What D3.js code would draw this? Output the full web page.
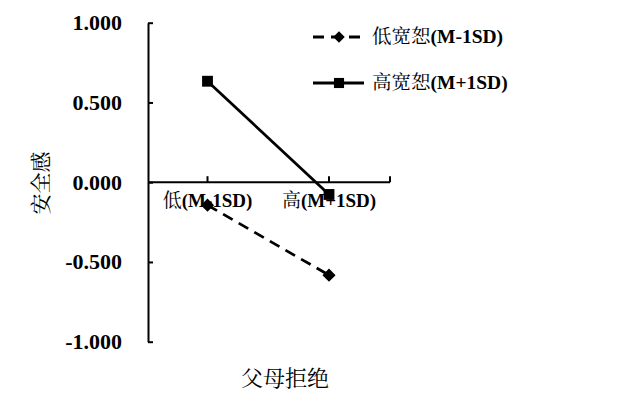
<!DOCTYPE html>
<html><head><meta charset="utf-8">
<script src="https://cdn.jsdelivr.net/npm/d3@7"></script>
<style>body{margin:0;background:#fff}</style>
</head><body>
<svg id="c" width="634" height="401"></svg>
<script>
const categories = ["低(M-1SD)", "高(M+1SD)"];
const seriesNames = ["低宽恕(M-1SD)", "高宽恕(M+1SD)"];
const lowForgiveness = [-0.144, -0.583];
const highForgiveness = [0.633, -0.077];
const yTicks = [1, 0.5, 0, -0.5, -1];
const yTitle = "安全感";
const xTitle = "父母拒绝";

const svg = d3.select("#c");
const latin = "Liberation Serif, serif";
const cjk = "Noto Serif CJK SC, Liberation Serif, serif";
const x0 = 148, x1 = 390;
const y = d3.scaleLinear().domain([-1, 1]).range([341.7, 22.7]);
const x = d3.scalePoint().domain(categories).range([207.5, 329]);

function mixed(sel, str, size) {
  const m = str.match(/^([^\x00-\x7f]*)(.*)$/);
  sel.append("tspan").attr("font-family", cjk).attr("font-size", size).text(m[1]);
  sel.append("tspan").attr("font-family", latin).attr("font-weight", "bold").attr("font-size", size).text(m[2]);
}

// y axis
const yAxis = d3.axisLeft(y).tickValues(yTicks).tickSizeInner(-5).tickSizeOuter(0).tickPadding(26)
  .tickFormat(d => d3.format(".3f")(d).replace("−", "-"));
const gy = svg.append("g").attr("transform", `translate(${x0},0)`).call(yAxis);
gy.select(".domain").attr("stroke", "#000").attr("stroke-width", 2);
gy.selectAll(".tick line").attr("stroke", "#000").attr("stroke-width", 2);
gy.selectAll(".tick text").attr("font-family", latin).attr("font-weight", "bold").attr("font-size", 22).attr("fill", "#000");

// x axis at y=0
const gx = svg.append("g").attr("transform", `translate(0,${y(0)})`);
gx.append("line").attr("x1", x0).attr("x2", x1).attr("stroke", "#000").attr("stroke-width", 2);
const tickXs = categories.map(c => x(c)).concat([x1]);
gx.selectAll("line.t").data(tickXs).enter().append("line").attr("class", "t")
  .attr("x1", d => d).attr("x2", d => d).attr("y1", -6).attr("y2", 0).attr("stroke", "#000").attr("stroke-width", 2);
gx.selectAll("text").data(categories).enter().append("text")
  .attr("x", d => x(d)).attr("y", 25).attr("text-anchor", "middle").attr("fill", "#000")
  .each(function(d) { mixed(d3.select(this), d, 19); });

// lines
const line = d3.line().x((d, i) => x(categories[i])).y(d => y(d));
svg.append("path").datum(lowForgiveness).attr("d", line).attr("fill", "none").attr("stroke", "#000")
  .attr("stroke-width", 2.8).attr("stroke-dasharray", "11,7");
svg.append("path").datum(highForgiveness).attr("d", line).attr("fill", "none").attr("stroke", "#000")
  .attr("stroke-width", 2.8);

const diamond = d3.symbol().type(d3.symbolDiamond2).size(110);
const square = d3.symbol().type(d3.symbolSquare2).size(150);
svg.selectAll("path.dm").data(lowForgiveness).enter().append("path").attr("class", "dm")
  .attr("d", diamond).attr("transform", (d, i) => `translate(${x(categories[i])},${y(d)})`).attr("fill", "#000");
svg.selectAll("path.sq").data(highForgiveness).enter().append("path").attr("class", "sq")
  .attr("d", square).attr("transform", (d, i) => `translate(${x(categories[i])},${y(d)})`).attr("fill", "#000");

// legend
const leg = [
  {name: seriesNames[0], dash: "11,7", sym: d3.symbol().type(d3.symbolDiamond2).size(85), y: 37},
  {name: seriesNames[1], dash: null, sym: d3.symbol().type(d3.symbolSquare2).size(130), y: 83}
];
leg.forEach(l => {
  svg.append("line").attr("x1", 313).attr("x2", 364).attr("y1", l.y).attr("y2", l.y).attr("stroke", "#000")
    .attr("stroke-width", 2.8).attr("stroke-dasharray", l.dash);
  svg.append("path").attr("d", l.sym).attr("transform", `translate(339,${l.y})`).attr("fill", "#000");
  const t = svg.append("text").attr("x", 372).attr("y", l.y + 6).attr("fill", "#000");
  mixed(t, l.name, 19.5);
});

// titles
svg.append("text").attr("transform", `translate(48,183) rotate(-90)`).attr("text-anchor", "middle")
  .attr("font-family", cjk).attr("font-size", 21).attr("fill", "#000").text(yTitle);
svg.append("text").attr("x", 285).attr("y", 386).attr("text-anchor", "middle")
  .attr("font-family", cjk).attr("font-size", 22).attr("fill", "#000").text(xTitle);
</script>
</body></html>
